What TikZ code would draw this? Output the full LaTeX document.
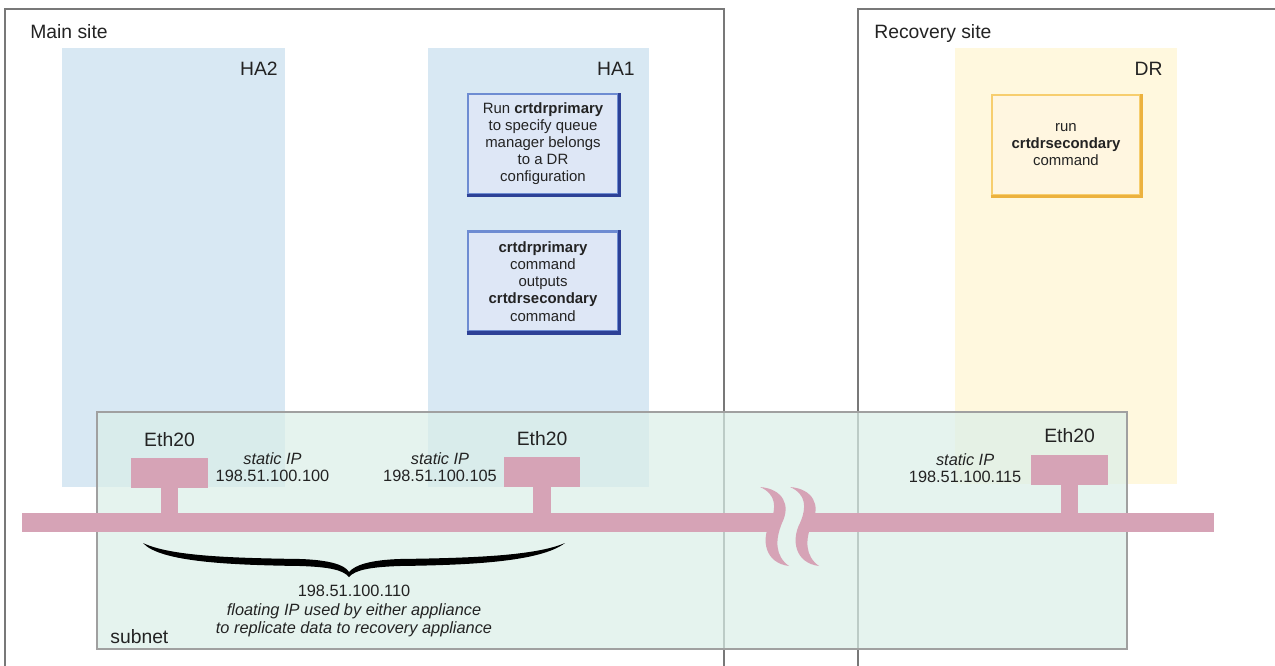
\documentclass[tikz,border=0pt]{standalone}
\usepackage{fontspec}
\setmainfont{Liberation Sans}
\usetikzlibrary{positioning}
\definecolor{habgblue}{RGB}{216, 232, 243}
\definecolor{drbgyellow}{RGB}{255, 248, 222}
\definecolor{subnetgreen}{RGB}{218, 239, 232}
\definecolor{framegray}{RGB}{120, 120, 120}
\definecolor{buspink}{RGB}{214, 163, 182}
\definecolor{cmdfill}{RGB}{222, 231, 246}
\definecolor{cmdline}{RGB}{110, 140, 210}
\definecolor{cmddark}{RGB}{45, 65, 150}
\definecolor{drfill}{RGB}{255, 246, 224}
\definecolor{drline}{RGB}{247, 206, 110}
\definecolor{drdark}{RGB}{236, 178, 62}
\definecolor{textgray}{RGB}{35, 35, 35}

\begin{document}
\begin{tikzpicture}[
    x=0.02cm, y=-0.02cm,
    frame/.style={draw=framegray, line width=0.7pt},
    sitelabel/.style={font=\fontsize{11}{13}\selectfont, text=textgray, inner sep=0pt},
    hacolumn/.style={fill=habgblue},
    drcolumn/.style={fill=drbgyellow},
    subnetbox/.style={draw=framegray!70, line width=0.8pt, fill=subnetgreen, fill opacity=0.7},
    cmdbox/.style={rectangle, draw=cmdline, line width=1.5pt, fill=cmdfill, minimum width=3cm, minimum height=2cm, align=center, inner sep=2pt, text=textgray, font=\fontsize{8.5}{9.7}\selectfont},
    cmdedge/.style={draw=cmddark, line width=2pt},
    drbox/.style={cmdbox, draw=drline, fill=drfill, minimum width=2.96cm},
    dredge/.style={draw=drdark, line width=2pt},
    port/.style={rectangle, fill=buspink, minimum width=1.54cm, minimum height=0.6cm, inner sep=0pt},
    bus/.style={draw=buspink, line width=10.8pt},
    stem/.style={draw=buspink, line width=10.2pt},
    iplabel/.style={align=center, inner sep=0pt, text=textgray, font=\fontsize{9.3}{9.7}\selectfont},
    breakmark/.style={fill=buspink}
]

\useasboundingbox (0,0) rectangle (1275,666);
\fill[white] (0,0) rectangle (1275,666);

% appliance columns
\fill[hacolumn] (62,48) rectangle (285,487);
\fill[hacolumn] (428,48) rectangle (649,487);
\fill[drcolumn] (955,48) rectangle (1177,484);

% site frames, open at the bottom
\draw[frame] (5,667) |- (724,9) -- (724,667);
\draw[frame] (858,667) |- (1276,9);

\node[sitelabel, anchor=base west] (mainlbl) at (30,38) {Main site};
\node[sitelabel, anchor=base west] (reclbl) at (874,38) {Recovery site};
\node[sitelabel, anchor=base east] (ha2lbl) at (278,75) {HA2};
\node[sitelabel, anchor=base east] (ha1lbl) at (635,75) {HA1};
\node[sitelabel, anchor=base east] (drlbl) at (1163,75) {DR};

% subnet
\draw[subnetbox] (97,412) rectangle (1127,649);
\node[sitelabel, anchor=base west] (subnetlbl) at (110,643) {subnet};

% commands
\node[cmdbox] (prim) at (543,144) {Run \textbf{crtdrprimary}\\to specify queue\\manager belongs\\to a DR\\configuration};
\node[cmdbox, below=0.7cm of prim] (outp) {\textbf{crtdrprimary}\\command\\outputs\\\textbf{crtdrsecondary}\\command};
\node[drbox] (sec) at (1066,145) {run\\\textbf{crtdrsecondary}\\command};
\foreach \b in {prim,outp}
    \draw[cmdedge] (\b.south west) -- (\b.south east) -- (\b.north east);
\draw[dredge] (sec.south west) -- (sec.south east) -- (sec.north east);

% network
\coordinate (busL-w) at (22,522.5);
\coordinate (busL-e) at (776,522.5);
\coordinate (busR-w) at (803,522.5);
\coordinate (busR-e) at (1214,522.5);

\node[port] (eth1) at (169.5,473) {};
\node[port] (eth2) at (542,472) {};
\node[port] (eth3) at (1069.5,469.5) {};

\draw[stem] (eth1.south) -- (eth1.south |- busL-w);
\draw[stem] (eth2.south) -- (eth2.south |- busL-w);
\draw[stem] (eth3.south) -- (eth3.south |- busR-w);
\draw[bus] (busL-w) -- (busL-e);
\draw[bus] (busR-w) -- (busR-e);

% break in the line
\foreach \dx in {0,30}
    \fill[breakmark, shift={(\dx,0)}] (760,487) .. controls (783,489) and (791,505) .. (782,523)
        .. controls (775,540) and (775,556) .. (789,566)
        .. controls (765,563) and (761,540) .. (770,523)
        .. controls (777,507) and (776,494) .. (760,487) -- cycle;

\node[sitelabel, above=0.22cm of eth1] (eth1lbl) {Eth20};
\node[sitelabel, above=0.22cm of eth2] (eth2lbl) {Eth20};
\node[sitelabel, above=0.22cm of eth3] (eth3lbl) {Eth20};

\node[iplabel, right=0.14cm of eth1, yshift=0.11cm] (ip1) {\textit{static IP}\\198.51.100.100};
\node[iplabel, left=0.12cm of eth2, yshift=0.09cm] (ip2) {\textit{static IP}\\198.51.100.105};
\node[iplabel, left=0.18cm of eth3, yshift=0.02cm] (ip3) {\textit{static IP}\\198.51.100.115};

% brace over both appliances
\fill[black] (143,543) .. controls (170,556) and (230,558) .. (300,559)
    .. controls (330,560) and (345,565) .. (349,572)
    .. controls (355,565) and (370,560) .. (400,559)
    .. controls (470,558) and (535,556) .. (565,543)
    .. controls (540,562) and (470,565) .. (400,566)
    .. controls (370,567) and (355,570) .. (349,577)
    .. controls (343,570) and (330,567) .. (300,566)
    .. controls (230,565) and (160,562) .. (143,543) -- cycle;

\node[iplabel, font=\fontsize{9.3}{10.8}\selectfont] (floatip) at (354,611) {198.51.100.110\\\textit{floating IP used by either appliance}\\\textit{to replicate data to recovery appliance}};

\end{tikzpicture}
\end{document}
